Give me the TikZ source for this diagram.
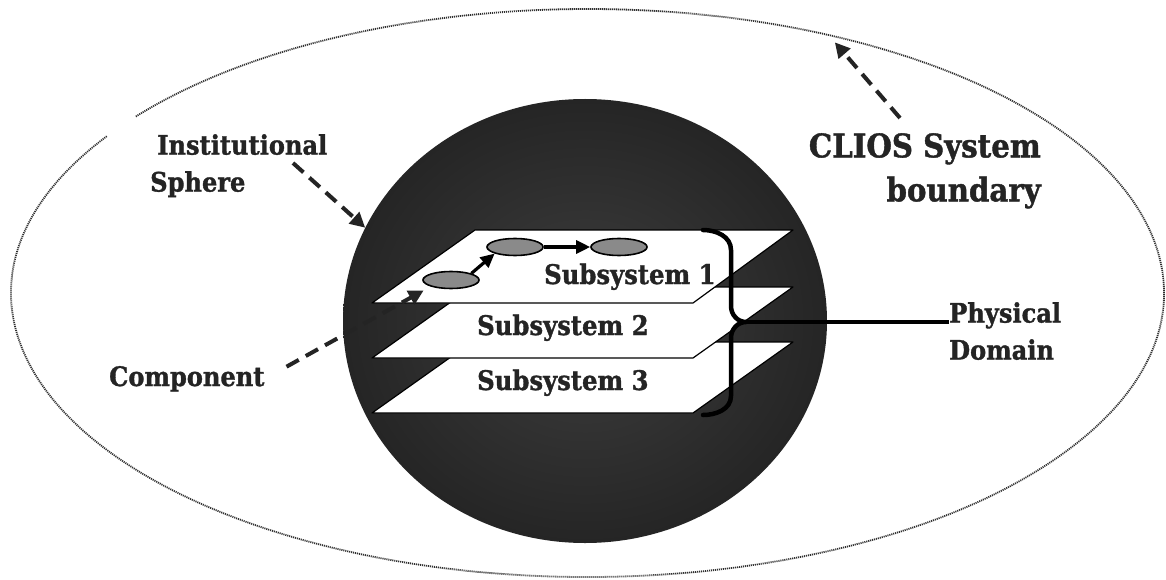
\documentclass[tikz,border=0pt]{standalone}
\usepackage{fontspec}
\newfontfamily\lblfont[FakeBold=1.2]{DejaVu Serif Condensed}
\usetikzlibrary{arrows.meta,shapes.geometric}
\definecolor{txt}{HTML}{242424}
\definecolor{compfill}{HTML}{8A8A8A}
\definecolor{sphin}{HTML}{3E3E3E}
\definecolor{sphout}{HTML}{252525}
\definecolor{dots}{HTML}{303030}
\begin{document}
\begin{tikzpicture}[x=1pt,y=-1pt,
  lbl/.style={font=\lblfont\bfseries\fontsize{26.8}{37}\selectfont, text=txt, inner sep=0pt, align=left},
  biglbl/.style={font=\lblfont\bfseries\fontsize{32.5}{44}\selectfont, text=txt, inner sep=0pt, align=right},
  sublbl/.style={font=\lblfont\bfseries\fontsize{27}{30}\selectfont, text=txt, inner sep=0pt},
  plane/.style={fill=white, draw=black, line width=1.2pt, line join=round},
  comp/.style={ellipse, fill=compfill, draw=black, line width=1.6pt, minimum width=56pt, minimum height=17pt, inner sep=0pt},
  dasharrow/.style={line width=4pt, dash pattern=on 14pt off 8pt, draw=txt, -{Triangle[length=15pt,width=15pt]}},
  solidarrow/.style={line width=3.2pt, draw=black, -{Triangle[length=14pt,width=13pt]}},
  brace/.style={line width=4.5pt, draw=black, line cap=round, line join=round},
  boundline/.style={draw=dots, line width=1.8pt, dash pattern=on 1.1pt off 0.9pt}
]
\useasboundingbox (0,0) rectangle (1166,580);
\fill[white] (0,0) rectangle (1166,580);

% system boundary
\node[ellipse, minimum width=1153pt, minimum height=568pt, inner sep=0pt] (bnd) at (587.5,293) {};
\draw[boundline] ([shift={(146.5:576.5pt and 284pt)}]bnd.center) arc[start angle=146.5, end angle=501.7, x radius=576.5pt, y radius=284pt];

% institutional sphere
\node[ellipse, minimum width=484pt, minimum height=444pt, inner sep=0pt, shading=radial, inner color=sphin, outer color=sphout] (sphere) at (585,321) {};

% subsystem planes
\draw[plane] (472,342) -- (793,342) -- (693,413) -- (372,413) -- cycle;
\draw[plane] (472,287) -- (793,287) -- (693,358) -- (372,358) -- cycle;
\draw[plane] (475,230) -- (793,230) -- (693,303) -- (372,303) -- cycle;

% components
\node[comp] (e1) at (451,280) {};
\node[comp] (e2) at (515,247) {};
\node[comp] (e3) at (619,247) {};
\draw[solidarrow] (e1.north east) -- (e2.south west);
\draw[solidarrow] (e2.east) -- (e3.west);

% subsystem labels
\node[sublbl, anchor=base west] (s1) at (544,284) {Subsystem 1};
\node[sublbl, anchor=base west] (s2) at (477,335) {Subsystem 2};
\node[sublbl, anchor=base west] (s3) at (477,390) {Subsystem 3};

% brace for physical domain
\coordinate (btop) at (703,230);
\coordinate (btip) at (746,322);
\coordinate (bbot) at (703,415);
\draw[brace] (btop) to[out=0,in=90] (731,250) -- (731,306) to[out=-90,in=180] (btip) to[out=180,in=90] (731,338) -- (731,396) to[out=-90,in=0] (bbot);

% labels
\node[lbl, anchor=north west] (inst) at (150,134) {\hspace*{7pt}Institutional\\Sphere};
\node[biglbl, anchor=north east] (clios) at (1041,133) {CLIOS System\\boundary};
\node[lbl, anchor=north west] (phys) at (949,302) {Physical\\Domain};
\node[lbl, anchor=base west] (compl) at (109,386) {Component};

\draw[line width=4pt, draw=black] (btip) -- (btip -| phys.west);

% dashed pointers
\coordinate (instfrom) at (293,163);
\coordinate (cliosfrom) at (900,118);
\draw[dasharrow] (instfrom) -- (sphere.157);
\draw[dasharrow, shorten >=10pt] (cliosfrom) -- (bnd.47);
\draw[dasharrow, shorten <=20pt, shorten >=8pt, dash phase=17pt] (compl.east) -- (e1.south west);
\end{tikzpicture}
\end{document}
